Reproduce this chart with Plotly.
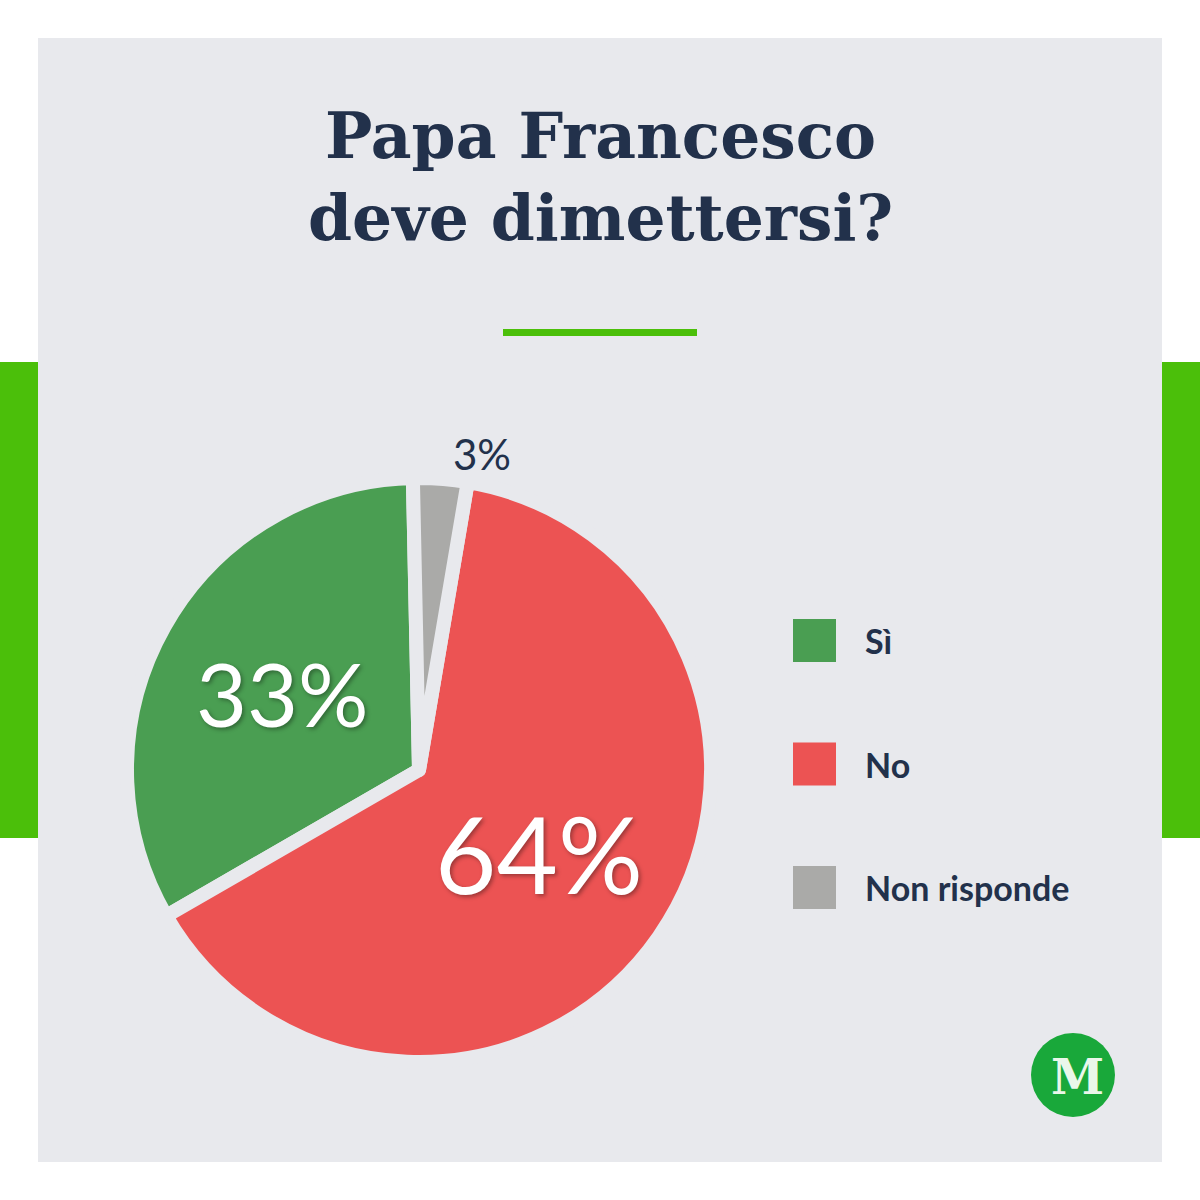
import plotly.graph_objects as go

# ---- data ----
categories = ["Sì", "No", "Non risponde"]
values = [33, 64, 3]
colors = ["#4a9e52", "#ec5353", "#aaaaa8"]
title_lines = ["Papa Francesco", "deve dimettersi?"]

W = H = 1200
PANEL = "#e8e9ed"
NAVY = "#22314b"
GREEN = "#4bbf0a"


def px(x):
    return x / W


def py(y):
    return 1 - y / H


fig = go.Figure()

# pie geometry (pixels)
cx, cy, r = 419, 770, 292
label_sizes = [88, 106, 42]
fig.add_trace(go.Pie(
    labels=categories,
    values=values,
    marker=dict(colors=colors, line=dict(color=PANEL, width=14)),
    sort=False,
    direction="counterclockwise",
    rotation=240,
    textinfo="percent",
    textposition=["inside", "inside", "outside"],
    insidetextorientation="horizontal",
    textfont=dict(family="Lato", size=label_sizes),
    insidetextfont=dict(family="Lato", size=label_sizes, color="white",
                        shadow="2px 2px 4px rgba(0,0,0,0.35)"),
    outsidetextfont=dict(family="Lato", size=label_sizes, color=NAVY),
    domain=dict(x=[px(cx - r), px(cx + r)], y=[py(cy + r), py(cy - r)]),
    showlegend=False,
    hoverinfo="label+percent",
))

shapes = [
    # side green bars
    dict(type="rect", xref="paper", yref="paper", x0=0, x1=px(38), y0=py(838), y1=py(362),
         fillcolor=GREEN, line=dict(width=0), layer="below"),
    dict(type="rect", xref="paper", yref="paper", x0=px(1162), x1=1, y0=py(838), y1=py(362),
         fillcolor=GREEN, line=dict(width=0), layer="below"),
    # panel
    dict(type="rect", xref="paper", yref="paper", x0=px(38), x1=px(1162), y0=py(1162), y1=py(38),
         fillcolor=PANEL, line=dict(width=0), layer="below"),
    # title underline
    dict(type="rect", xref="paper", yref="paper", x0=px(503), x1=px(697), y0=py(336), y1=py(329),
         fillcolor=GREEN, line=dict(width=0), layer="below"),
    # logo circle
    dict(type="circle", xref="paper", yref="paper", x0=px(1031), x1=px(1115), y0=py(1117), y1=py(1033),
         fillcolor="#19a83a", line=dict(width=0)),
]

annotations = [
    dict(text="<b>" + "<br>".join(title_lines) + "</b>", xref="paper", yref="paper",
         x=0.5, y=py(177), xanchor="center", yanchor="middle", showarrow=False,
         font=dict(family="DejaVu Serif", size=63, color=NAVY), align="center"),
    dict(text="<b>M</b>", xref="paper", yref="paper", x=px(1077), y=py(1077),
         xanchor="center", yanchor="middle", showarrow=False,
         font=dict(family="DejaVu Serif", size=48, color="#eaf7ea")),
]

# custom legend built from the categories/colors lists
leg_x0, leg_y0, leg_step, sq = 793, 640.5, 123.5, 43
for i, (cat, col) in enumerate(zip(categories, colors)):
    yc = leg_y0 + i * leg_step
    shapes.append(dict(type="rect", xref="paper", yref="paper",
                       x0=px(leg_x0), x1=px(leg_x0 + sq), y0=py(yc + sq / 2), y1=py(yc - sq / 2),
                       fillcolor=col, line=dict(width=0)))
    annotations.append(dict(text="<b>" + cat + "</b>", xref="paper", yref="paper",
                            x=px(863), y=py(yc), xanchor="left", yanchor="middle",
                            showarrow=False, font=dict(family="Lato", size=34, color=NAVY)))

fig.update_layout(
    width=W, height=H, autosize=False,
    margin=dict(l=0, r=0, t=0, b=0),
    paper_bgcolor="white", plot_bgcolor="white",
    shapes=shapes, annotations=annotations,
    showlegend=False,
)

fig.write_html("out.html", config={"displayModeBar": False},
               post_script="document.body.style.margin='0';")
